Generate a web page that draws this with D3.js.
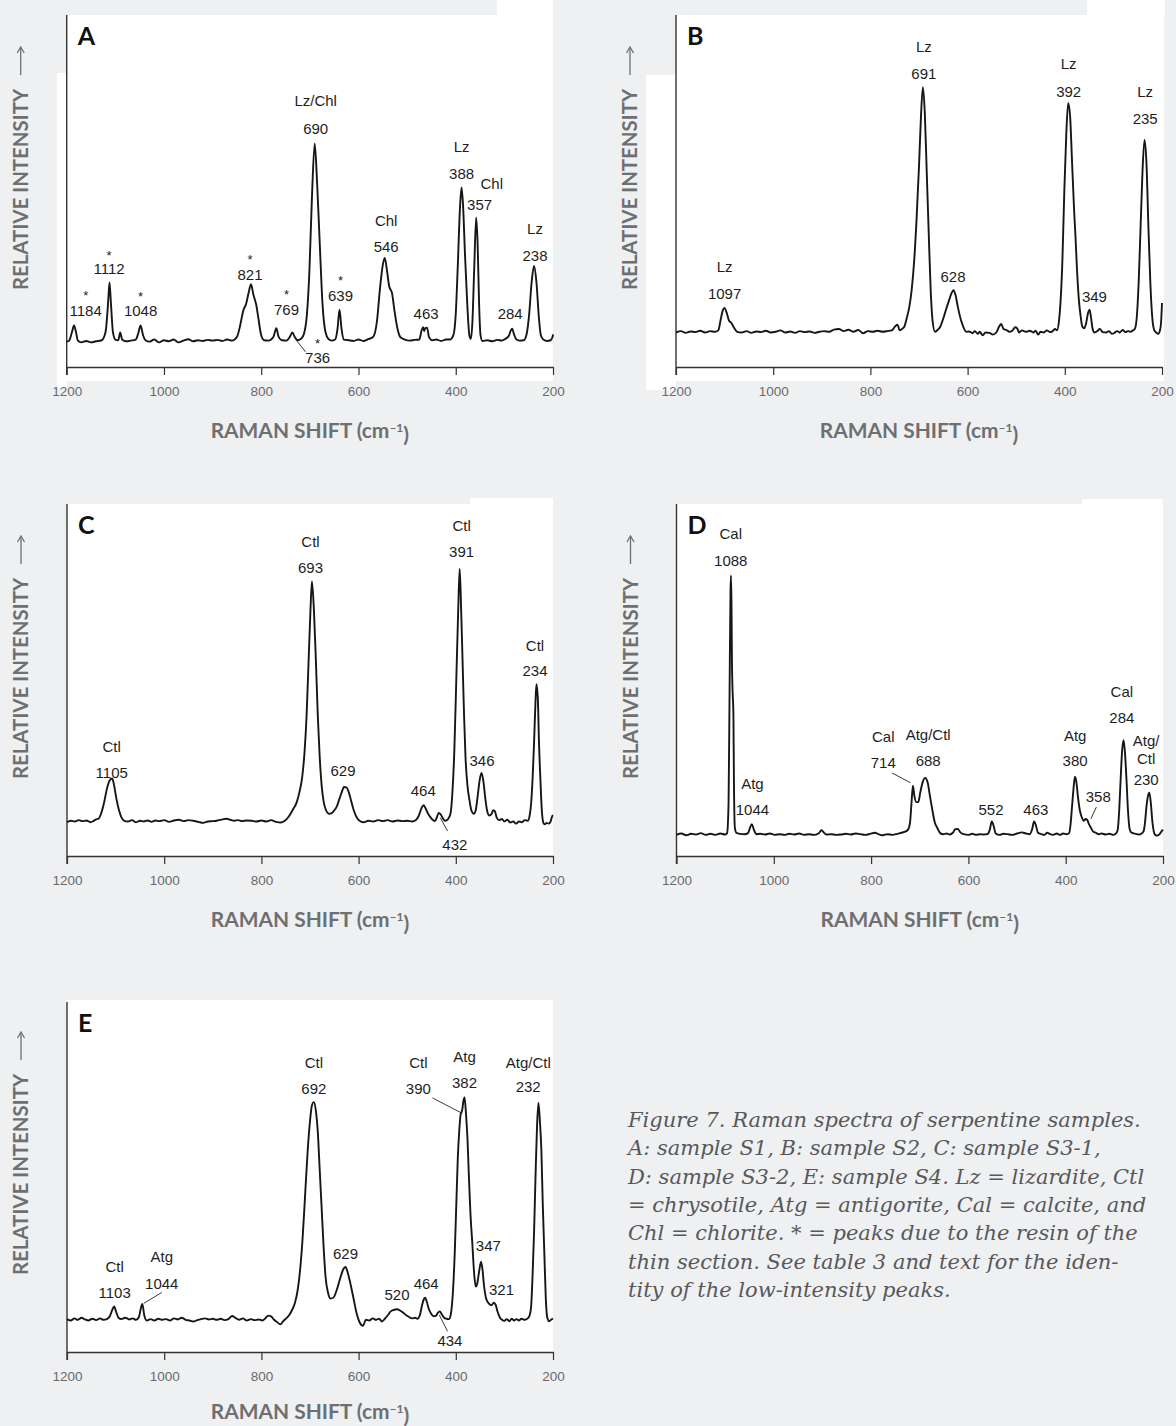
<!DOCTYPE html>
<html>
<head>
<meta charset="utf-8">
<script src="https://cdn.jsdelivr.net/npm/d3@7"></script>
<style>
html, body { margin: 0; padding: 0; background: #eff0f2; }
svg { display: block; }
</style>
</head>
<body>
<svg id="figure" width="1176" height="1426"></svg>
<script>
// Raman shift ticks (cm-1), axis runs high -> low
const xTicks = [1200, 1000, 800, 600, 400, 200];

// Traced spectra: [raman shift, relative intensity 0-100]
const spectrumA = [
  [1200, 7.2], [1195, 7.5], [1189, 10], [1185, 11.8], [1181, 10], [1177, 7.5], [1170, 7.0], [1160, 7.4],
  [1150, 7.0], [1140, 7.3], [1128, 7.6], [1120, 10], [1115, 18], [1112, 24], [1109, 18], [1105, 10],
  [1100, 7.8], [1094, 7.6], [1090, 9.8], [1086, 7.8], [1078, 7.3], [1068, 7.5], [1058, 7.8], [1053, 9.5],
  [1048, 11.8], [1043, 9], [1038, 7.6], [1030, 7.2], [1020, 7.8], [1010, 7.0], [1000, 7.6], [990, 7.3],
  [980, 7.8], [970, 7.0], [960, 7.5], [950, 7.9], [940, 7.3], [930, 7.6], [920, 7.4], [910, 7.7],
  [900, 7.5], [890, 7.7], [880, 7.4], [870, 7.8], [860, 7.5], [850, 8.5], [843, 12], [837, 16],
  [831, 18], [826, 21], [821, 23.5], [816, 20.5], [810, 17.5], [806, 14], [800, 9], [794, 7.6],
  [785, 7.5], [775, 8.5], [769, 11], [764, 8.5], [757, 7.6], [748, 7.5], [741, 8.6], [736, 9.8],
  [731, 8.5], [725, 7.6], [718, 8], [711, 10], [706, 15], [701, 27], [696, 47], [690, 63.5],
  [685, 52], [679, 33], [674, 18], [668, 10], [662, 8.0], [655, 7.5], [648, 7.8], [643, 11],
  [639, 16.3], [635, 11], [630, 7.8], [620, 7.6], [610, 7.4], [600, 7.8], [590, 7.4], [580, 7.9],
  [570, 8.5], [562, 13], [556, 22], [550, 29], [546, 31], [541, 27], [537, 23], [531, 21],
  [526, 16], [520, 11], [514, 8.5], [505, 7.8], [495, 7.5], [485, 7.7], [475, 7.8], [470, 10.5],
  [467, 11.3], [465, 10.2], [463, 11], [459, 11.2], [455, 8.5], [448, 7.6], [440, 7.8], [430, 7.4],
  [420, 7.8], [412, 7.8], [405, 9], [400, 15], [396, 28], [391, 46], [388, 51], [385, 46],
  [381, 32], [376, 17], [372, 9], [369, 8], [366, 12], [362, 28], [358, 42.5], [355, 35],
  [352, 18], [349, 9], [345, 7.4], [335, 7.6], [325, 7.3], [315, 7.7], [305, 7.5], [298, 8],
  [291, 8.8], [287, 10.3], [284, 10.9], [280, 9.2], [275, 7.8], [268, 7.5], [260, 7.6], [254, 9.5],
  [249, 15], [244, 24], [239, 28.7], [234, 24], [229, 14], [225, 9], [220, 7.8], [212, 7.4],
  [205, 7.6], [201, 8.5], [200, 9.3]
];

const spectrumB = [
  [1200, 9.8], [1190, 10.2], [1180, 9.7], [1170, 10.1], [1160, 9.9], [1150, 10.3], [1140, 9.8], [1130, 10.2],
  [1120, 10.0], [1113, 10.4], [1108, 13.5], [1104, 16], [1100, 16.8], [1096, 15.5], [1091, 13.2], [1086, 12.5],
  [1080, 11], [1074, 10], [1065, 9.8], [1055, 10.2], [1045, 9.7], [1035, 10.1], [1025, 9.9], [1015, 10.3],
  [1005, 9.8], [995, 10.0], [985, 10.4], [975, 9.8], [965, 10.1], [955, 9.7], [945, 10.2], [935, 9.9],
  [925, 10.1], [915, 9.7], [905, 10.0], [895, 10.2], [885, 10.0], [875, 10.6], [865, 10.8], [855, 10.2],
  [845, 10.6], [835, 10.0], [825, 10.5], [815, 9.6], [805, 10.2], [795, 10.0], [785, 10.3], [775, 10.0],
  [765, 10.2], [755, 10.5], [748, 11.7], [744, 12.0], [740, 10.4], [735, 10.8], [730, 11.5], [725, 14],
  [720, 17], [715, 22], [710, 30], [705, 42], [700, 57], [696, 71], [692, 79.5], [688, 72],
  [684, 55], [680, 38], [676, 22], [672, 13], [667, 10], [662, 10.5], [656, 11.5], [650, 13.8],
  [644, 16.5], [638, 19], [633, 21], [629, 21.8], [625, 20.5], [620, 17], [614, 13.5], [609, 11.5],
  [603, 10], [597, 10.1], [590, 9.6], [585, 10.2], [579, 9.4], [575, 10], [569, 9.0], [563, 9.8],
  [555, 9.7], [548, 9.2], [541, 9.8], [535, 11.5], [531, 12.2], [526, 10.8], [520, 10.5], [514, 10.0],
  [508, 10.3], [502, 11.3], [498, 11.0], [494, 9.8], [488, 10.4], [480, 10.0], [472, 10.3], [465, 9.8],
  [460, 10.3], [455, 9.2], [450, 10.0], [443, 9.8], [437, 10.4], [430, 9.9], [425, 10.2], [420, 10.8],
  [416, 10.4], [412, 13], [409, 18], [405, 30], [401, 50], [397, 66], [393, 75], [389, 71],
  [385, 58], [381, 45], [378, 37], [375, 28], [371, 19], [367, 14], [364, 11.5], [360, 11.0],
  [356, 12.5], [352, 15.5], [349, 16.3], [346, 14], [343, 11], [339, 9.8], [333, 10.2], [328, 10.8],
  [322, 9.9], [315, 9.8], [309, 10.2], [303, 9.4], [298, 9.7], [292, 10.2], [287, 9.8], [281, 10.5],
  [275, 9.9], [270, 10.2], [265, 10.0], [260, 10.4], [256, 10.8], [252, 14], [248, 24], [244, 40],
  [240, 56], [236, 64.5], [232, 58], [228, 40], [224, 24], [220, 14], [216, 10.5], [212, 9.8],
  [208, 9.4], [204, 10.5], [202, 12.5], [200, 18.2]
];

const spectrumC = [
  [1200, 9.6], [1192, 10.0], [1184, 9.8], [1176, 10.2], [1168, 9.9], [1160, 10.1], [1152, 9.6], [1145, 10.0],
  [1140, 10.4], [1135, 10.6], [1130, 12], [1124, 15], [1118, 19], [1112, 21.5], [1107, 22], [1103, 20],
  [1098, 16], [1093, 13], [1088, 11], [1082, 10], [1075, 9.8], [1066, 10.2], [1058, 9.6], [1050, 10.0],
  [1042, 9.8], [1034, 10.1], [1026, 9.7], [1018, 10.1], [1010, 9.9], [1000, 10.2], [990, 9.7], [980, 10.1],
  [970, 10.3], [960, 9.9], [950, 10.2], [940, 10.0], [930, 9.7], [920, 9.4], [910, 9.8], [900, 9.9],
  [890, 10.1], [880, 10.4], [872, 10.6], [864, 10.3], [856, 10.0], [848, 10.2], [840, 9.9], [830, 10.1],
  [820, 10.0], [810, 9.8], [800, 10.1], [790, 9.8], [780, 10.2], [770, 9.7], [760, 9.5], [752, 10.0],
  [746, 10.8], [740, 12], [734, 13.5], [728, 15], [722, 18], [716, 22.5], [711, 30], [707, 40],
  [703, 55], [699, 70], [696, 78], [692, 70], [688, 56], [684, 40], [680, 28], [676, 20],
  [672, 15.5], [667, 13], [661, 12], [655, 12.2], [650, 13], [645, 14], [640, 16], [635, 18],
  [630, 19.6], [625, 19.5], [620, 18], [615, 15.5], [610, 13], [604, 11], [598, 10], [590, 9.6],
  [580, 10.0], [570, 9.8], [560, 10.2], [550, 9.9], [540, 10.2], [530, 9.8], [520, 10.1], [510, 9.9],
  [500, 10.0], [490, 9.8], [482, 10.2], [476, 11.5], [470, 13.8], [466, 14.4], [462, 13.5], [457, 12],
  [452, 11], [447, 10.2], [443, 9.9], [439, 11], [435, 12.2], [431, 11.8], [427, 10.8], [422, 10],
  [416, 10.5], [411, 12], [407, 18], [403, 30], [399, 50], [395, 70], [392, 81.6], [389, 70],
  [386, 55], [383, 40], [380, 28], [376, 20], [372, 16], [368, 13], [363, 12], [359, 13],
  [355, 17], [351, 21.5], [347, 23.6], [343, 21], [339, 16], [335, 12.5], [331, 11.5], [327, 11.8],
  [323, 13], [320, 12.8], [316, 11], [311, 10.2], [305, 10.5], [300, 9.8], [294, 10.3], [288, 9.5],
  [282, 9.8], [276, 9.2], [270, 9.8], [264, 9.6], [258, 10.2], [252, 10.0], [248, 11.5], [245, 15],
  [242, 22], [239, 32], [236, 44], [234, 48.8], [231, 44], [229, 33], [226, 22], [223, 13],
  [220, 9.5], [217, 9.0], [213, 9.4], [209, 9.2], [205, 9.8], [202, 11.2], [200, 11.6]
];

const spectrumD = [
  [1200, 6.0], [1190, 6.4], [1180, 5.9], [1170, 6.3], [1160, 6.1], [1150, 6.5], [1140, 6.0], [1130, 6.3],
  [1120, 6.0], [1110, 6.4], [1100, 6.1], [1096, 6.5], [1093, 15], [1091, 45], [1089, 75], [1088, 79.7],
  [1087, 72], [1086, 55], [1085, 48], [1083, 40], [1082, 22], [1080, 8], [1077, 6.6], [1070, 6.3],
  [1060, 6.2], [1053, 6.5], [1049, 8], [1045, 9.0], [1041, 7.5], [1036, 6.2], [1028, 6.3], [1018, 6.1],
  [1008, 6.4], [998, 6.0], [988, 6.2], [978, 6.0], [968, 6.3], [958, 6.1], [948, 6.4], [938, 6.0],
  [928, 6.2], [918, 6.0], [908, 6.4], [902, 7.3], [898, 6.8], [892, 6.1], [882, 6.2], [872, 6.0],
  [862, 6.1], [852, 6.3], [842, 6.1], [832, 6.4], [822, 6.2], [812, 6.0], [802, 6.3], [792, 6.6],
  [785, 6.2], [776, 5.9], [766, 6.2], [756, 6.0], [746, 6.3], [738, 6.6], [730, 6.9], [724, 7.5],
  [720, 9.5], [717, 15], [714, 20], [711, 17], [707, 15.3], [703, 15.3], [699, 18], [694, 21],
  [689, 22.2], [684, 21], [679, 17], [674, 13], [669, 9.5], [664, 8.0], [658, 6.5], [652, 6.2],
  [645, 6.4], [638, 6.1], [632, 6.6], [627, 7.6], [622, 7.7], [617, 6.8], [610, 6.2], [600, 6.0],
  [592, 6.3], [584, 6.0], [576, 6.2], [568, 6.1], [560, 6.3], [556, 7.5], [552, 9.8], [548, 8.5],
  [544, 6.4], [536, 6.0], [528, 6.3], [520, 6.2], [510, 6.0], [500, 6.4], [490, 6.7], [482, 6.4],
  [474, 6.2], [469, 7.6], [465, 9.8], [461, 8.6], [457, 6.6], [450, 6.2], [444, 6.0], [438, 6.6],
  [432, 6.2], [426, 6.0], [418, 6.4], [412, 6.0], [405, 6.4], [398, 6.2], [393, 6.5], [390, 9],
  [387, 14], [384, 19], [381, 22.5], [378, 21], [375, 17], [371, 13], [367, 11], [363, 10],
  [359, 10.5], [356, 10.3], [352, 9], [348, 8], [344, 7.0], [338, 6.6], [332, 6.2], [326, 6.4],
  [318, 6.1], [310, 6.3], [302, 6.0], [296, 6.5], [293, 7.5], [290, 13], [287, 22], [284, 30],
  [281, 32.9], [278, 29], [275, 21.5], [272, 13], [269, 8], [266, 6.8], [262, 6.5], [256, 6.3],
  [250, 6.1], [244, 6.4], [240, 7], [237, 9.5], [234, 14], [231, 17], [228, 18], [225, 15],
  [222, 10], [219, 7], [216, 6.0], [212, 5.8], [207, 6.2], [203, 7.0], [200, 7.5]
];

const spectrumE = [
  [1200, 9.4], [1192, 9.0], [1185, 9.6], [1178, 9.2], [1170, 9.8], [1163, 9.3], [1156, 9.0], [1148, 9.5],
  [1140, 9.1], [1132, 9.6], [1125, 9.2], [1118, 9.4], [1112, 10.2], [1107, 12], [1103, 13], [1099, 11.5],
  [1094, 9.8], [1088, 9.4], [1080, 9.8], [1072, 9.3], [1065, 9.6], [1058, 9.2], [1052, 10], [1048, 12.5],
  [1045, 13.7], [1041, 10.5], [1036, 9.0], [1028, 9.4], [1020, 9.0], [1012, 9.5], [1004, 9.2], [996, 9.4],
  [988, 9.0], [980, 9.6], [972, 9.3], [964, 9.8], [956, 9.2], [948, 9.0], [940, 8.7], [932, 9.1],
  [924, 9.4], [916, 9.6], [908, 9.3], [900, 9.5], [892, 9.2], [884, 9.5], [876, 9.1], [868, 9.4],
  [860, 10.3], [854, 9.8], [846, 9.2], [838, 9.6], [830, 9.0], [822, 9.4], [814, 9.1], [806, 9.3],
  [798, 9.0], [792, 9.6], [786, 10.4], [780, 10.2], [774, 9.2], [768, 8.6], [761, 7.9], [755, 8.8],
  [749, 9.6], [743, 10.5], [737, 12], [731, 14], [725, 18], [720, 24], [715, 33], [710, 45],
  [705, 57], [700, 66], [696, 70.5], [692, 71.4], [688, 69], [684, 63], [680, 52], [676, 41],
  [672, 30], [668, 21.5], [663, 17], [658, 15.3], [652, 15.5], [645, 17.7], [638, 21], [632, 23.5],
  [627, 24.3], [622, 22.5], [616, 19], [610, 15], [604, 11], [598, 8.5], [591, 7.5], [585, 9.2],
  [578, 9.0], [571, 9.6], [564, 9.2], [558, 9.5], [552, 8.7], [546, 9.5], [540, 10.5], [534, 11.6],
  [528, 12], [521, 12.2], [514, 11.8], [508, 11.2], [502, 10.5], [496, 10.0], [490, 9.6], [484, 9.8],
  [479, 9.5], [474, 10.5], [470, 13], [466, 15], [463, 15.5], [460, 14.5], [456, 12.5], [451, 11],
  [446, 10.2], [441, 10.3], [437, 11.2], [433, 11.6], [429, 10.8], [424, 9.8], [419, 9.5], [414, 9.4],
  [410, 11], [406, 17], [402, 29], [399, 42], [396, 55], [393, 63], [390, 67.9], [387, 69],
  [384, 72], [382, 72.8], [379, 68], [376, 61], [373, 50], [370, 40], [366, 31], [362, 22],
  [359, 18.7], [356, 19.5], [352, 23], [348, 25.8], [345, 23.5], [342, 19], [338, 15.5], [334, 14.2],
  [330, 13.6], [326, 13.4], [322, 14.1], [318, 13.5], [314, 11.5], [309, 9.8], [305, 9.2], [300, 8.9],
  [295, 9.4], [290, 8.8], [285, 9.5], [280, 9.0], [275, 9.4], [270, 9.0], [265, 9.5], [258, 9.2],
  [252, 9.6], [248, 10.5], [245, 13], [242, 22], [239, 34], [236, 50], [233, 64], [230, 71.2],
  [227, 66], [224, 58], [221, 42], [218, 29], [215, 16], [212, 10], [208, 8.8], [204, 9.2],
  [200, 9.6]
];

// Peak annotations: [shift, intensity (text centre), text]
const labelsA = [
  [1161, 21.2, '*'], [1161, 16.1, '1184'], [1113, 32.6, '*'], [1113, 27.9, '1112'],
  [1048, 20.9, '*'], [1048, 15.9, '1048'], [823, 31.4, '*'], [823, 26.3, '821'],
  [748, 21.4, '*'], [748, 16.4, '769'], [637, 25.5, '*'], [637, 20.4, '639'],
  [688, 75.8, 'Lz/Chl'], [688, 67.7, '690'], [543, 41.5, 'Chl'], [543, 34.1, '546'],
  [461, 15.2, '463'], [388, 62.5, 'Lz'], [388, 54.9, '388'], [326, 52.1, 'Chl'],
  [351, 46.2, '357'], [288, 15.2, '284'], [237, 39.3, 'Lz'], [237, 31.7, '238'],
  [684, 7.5, '*'], [684, 2.6, '736']
];
const labelsB = [
  [1100, 28.6, 'Lz'], [1100, 20.8, '1097'], [690, 90.9, 'Lz'], [690, 83.3, '691'],
  [630, 25.8, '628'], [392, 86.2, 'Lz'], [392, 78.3, '392'], [339, 19.9, '349'],
  [234.6, 78.1, 'Lz'], [234.6, 70.5, '235']
];
const labelsC = [
  [1108, 31.1, 'Ctl'], [1108, 23.7, '1105'], [699, 89.2, 'Ctl'], [699, 81.9, '693'],
  [632, 24.3, '629'], [467, 18.7, '464'], [402, 3.3, '432'], [388, 93.9, 'Ctl'],
  [388, 86.4, '391'], [346, 27.2, '346'], [237, 59.8, 'Ctl'], [237, 52.6, '234']
];
const labelsD = [
  [1088.5, 91.6, 'Cal'], [1088.5, 84, '1088'], [1044, 20.5, 'Atg'], [1044, 13.2, '1044'],
  [775, 33.8, 'Cal'], [775, 26.4, '714'], [682.7, 34.6, 'Atg/Ctl'], [682.7, 27.2, '688'],
  [553.6, 13.2, '552'], [461.3, 13.2, '463'], [380.6, 34.3, 'Atg'], [380.6, 27.2, '380'],
  [333, 16.8, '358'], [284.6, 46.6, 'Cal'], [284.6, 39.2, '284'], [234.6, 32.9, 'Atg/'],
  [234.6, 27.7, 'Ctl'], [234.6, 21.8, '230']
];
const labelsE = [
  [1102, 24.3, 'Ctl'], [1102, 17, '1103'], [1005, 27.2, 'Atg'], [1005, 19.6, '1044'],
  [692, 82.8, 'Ctl'], [692, 75.3, '692'], [627, 28.1, '629'], [521, 16.3, '520'],
  [461, 19.6, '464'], [412, 3.3, '434'], [477, 82.8, 'Ctl'], [477, 75.3, '390'],
  [382, 84.5, 'Atg'], [382, 77.1, '382'], [333, 30.5, '347'], [306, 17.9, '321'],
  [251, 82.8, 'Atg/Ctl'], [251, 75.7, '232']
];

// Leader lines: [shift1, int1, shift2, int2]
const leadersA = [[730, 8.0, 709, 4.3]];
const leadersB = [];
const leadersC = [[432, 10.9, 417, 7.1]];
const leadersD = [[757, 23.6, 719, 20.8], [337, 13.9, 348, 10.6]];
const leadersE = [[1005, 17, 1042, 13.9], [434, 10.6, 417, 5.9], [448, 72.6, 390, 68.4]];

const captionLines = [
  'Figure 7. Raman spectra of serpentine samples.',
  'A: sample S1, B: sample S2, C: sample S3-1,',
  'D: sample S3-2, E: sample S4. Lz = lizardite, Ctl',
  '= chrysotile, Atg = antigorite, Cal = calcite, and',
  'Chl = chlorite. * = peaks due to the resin of the',
  'thin section. See table 3 and text for the iden-',
  'tity of the low-intensity peaks.'
];

// Panel layout (pixel boxes of the plot frames)
const panels = [
  { letter: 'A', data: spectrumA, labels: labelsA, leaders: leadersA,
    left: 66.7, right: 553, top: 15, bottom: 367, titleGap: 63,
    white: [[66.7, 15, 486.3, 366], [57, 73, 10, 315], [497, 0, 56, 15]] },
  { letter: 'B', data: spectrumB, labels: labelsB, leaders: leadersB,
    left: 676, right: 1162, top: 15, bottom: 367, titleGap: 63,
    white: [[676, 15, 488, 366], [646, 75, 30, 315], [1087, 0, 78, 15]] },
  { letter: 'C', data: spectrumC, labels: labelsC, leaders: leadersC,
    left: 67, right: 553, top: 504, bottom: 856, titleGap: 63,
    white: [[67, 504, 486, 352], [470, 498, 83, 6]] },
  { letter: 'D', data: spectrumD, labels: labelsD, leaders: leadersD,
    left: 676.5, right: 1163, top: 504, bottom: 856, titleGap: 63,
    white: [[676.5, 504, 486.5, 352], [1082, 499, 81, 5]] },
  { letter: 'E', data: spectrumE, labels: labelsE, leaders: leadersE,
    left: 67, right: 553, top: 1002, bottom: 1352, titleGap: 59,
    white: [[67, 1000, 486, 352]] }
];

const svg = d3.select('#figure');
const titleColor = '#6e6f71';

// Scale a text element's font so it spans the wanted width
function fitWidth(sel, target) {
    const w = sel.node().getBBox().width;
    const fs = parseFloat(sel.style('font-size'));
    sel.style('font-size', (fs * target / w) + 'px');
}

panels.forEach(p => {
    const g = svg.append('g').attr('class', 'panel-' + p.letter);

    const x = d3.scaleLinear().domain([1200, 200]).range([p.left, p.right]);
    const y = d3.scaleLinear().domain([0, 100]).range([p.bottom, p.top]);

    // white backing of the plot
    g.selectAll('rect.bg')
        .data(p.white)
        .enter()
        .append('rect')
        .attr('class', 'bg')
        .attr('x', d => d[0]).attr('y', d => d[1])
        .attr('width', d => d[2]).attr('height', d => d[3])
        .attr('fill', '#ffffff');

    // y axis line (no ticks)
    g.append('line')
        .attr('x1', p.left).attr('x2', p.left)
        .attr('y1', p.top).attr('y2', p.bottom + 8)
        .attr('stroke', '#333').attr('stroke-width', 1.4);

    // x axis
    const ax = g.append('g')
        .attr('transform', `translate(0,${p.bottom})`)
        .call(d3.axisBottom(x).tickValues(xTicks).tickSize(8).tickSizeOuter(0).tickPadding(11).tickFormat(d3.format('d')));
    ax.select('.domain').attr('stroke', '#333').attr('stroke-width', 1.4);
    ax.selectAll('.tick line').attr('stroke', '#333').attr('stroke-width', 1.2);
    ax.selectAll('.tick text')
        .attr('fill', '#6a6a6a')
        .style('font-family', '"Liberation Sans", Arial, sans-serif')
        .style('font-size', '13.5px');

    // spectrum
    const line = d3.line()
        .x(d => x(d[0]))
        .y(d => y(d[1]))
        .curve(d3.curveMonotoneX);

    g.append('path')
        .datum(p.data)
        .attr('d', line)
        .attr('fill', 'none')
        .attr('stroke', '#161616')
        .attr('stroke-width', 1.9)
        .attr('stroke-linejoin', 'round');

    // leader lines
    g.selectAll('line.leader')
        .data(p.leaders)
        .enter()
        .append('line')
        .attr('class', 'leader')
        .attr('x1', d => x(d[0])).attr('y1', d => y(d[1]))
        .attr('x2', d => x(d[2])).attr('y2', d => y(d[3]))
        .attr('stroke', '#222').attr('stroke-width', 0.9);

    // peak labels (asterisks are set smaller)
    g.selectAll('text.peak')
        .data(p.labels)
        .enter()
        .append('text')
        .attr('class', 'peak')
        .attr('x', d => x(d[0]))
        .attr('y', d => y(d[1]))
        .attr('dy', d => d[2] === '*' ? '0.57em' : '0.36em')
        .attr('text-anchor', 'middle')
        .attr('fill', '#1e1e1e')
        .style('font-family', '"Liberation Sans", Arial, sans-serif')
        .style('font-size', d => d[2] === '*' ? '13px' : '15px')
        .text(d => d[2]);

    // panel letter
    g.append('text')
        .attr('x', p.left + 11)
        .attr('y', p.top + 30)
        .attr('fill', '#111')
        .style('font-family', 'Lato, "Open Sans", sans-serif')
        .style('font-weight', 700)
        .style('font-size', '25px')
        .text(p.letter);

    // x axis title
    const xt = g.append('text')
        .attr('x', (p.left + p.right) / 2)
        .attr('y', p.bottom + p.titleGap)
        .attr('dy', '0.36em')
        .attr('text-anchor', 'middle')
        .attr('fill', titleColor)
        .style('font-family', 'Lato, "Open Sans", sans-serif')
        .style('font-weight', 700)
        .style('font-size', '19px');
    xt.append('tspan').text('RAMAN SHIFT (cm');
    xt.append('tspan').attr('dy', '-0.45em').style('font-size', '12px').text('–1');
    xt.append('tspan').attr('dy', '0.45em').text(')');
    fitWidth(xt, 200);

    // y axis title with arrow
    const yx = p.left - 46;
    const yStart = p.bottom - 77;
    const yt = g.append('text')
        .attr('transform', `translate(${yx},${yStart}) rotate(-90)`)
        .attr('dy', '0.36em')
        .attr('fill', titleColor)
        .style('font-family', 'Lato, "Open Sans", sans-serif')
        .style('font-weight', 700)
        .style('font-size', '19px')
        .text('RELATIVE INTENSITY');
    fitWidth(yt, 202);

    const a0 = yStart - 202 - 13;
    const a1 = a0 - 28;
    g.append('line')
        .attr('x1', yx).attr('x2', yx)
        .attr('y1', a0).attr('y2', a1)
        .attr('stroke', titleColor).attr('stroke-width', 1.3);
    g.append('path')
        .attr('d', `M${yx - 3.5},${a1 + 6} L${yx},${a1} L${yx + 3.5},${a1 + 6}`)
        .attr('fill', 'none')
        .attr('stroke', titleColor).attr('stroke-width', 1.3);
});

// caption
const cap = svg.append('g');
cap.selectAll('text')
    .data(captionLines)
    .enter()
    .append('text')
    .attr('x', 628)
    .attr('y', (d, i) => 1127 + i * 28.3)
    .attr('fill', '#57585a')
    .style('font-family', '"DejaVu Serif", "Liberation Serif", serif')
    .style('font-style', 'italic')
    .style('font-size', '19px')
    .text(d => d);

// match caption width of the first line
const firstLine = cap.select('text');
const capW = firstLine.node().getComputedTextLength();
const capSize = 19 * 513 / capW;
cap.selectAll('text').style('font-size', capSize + 'px');
</script>
</body>
</html>
